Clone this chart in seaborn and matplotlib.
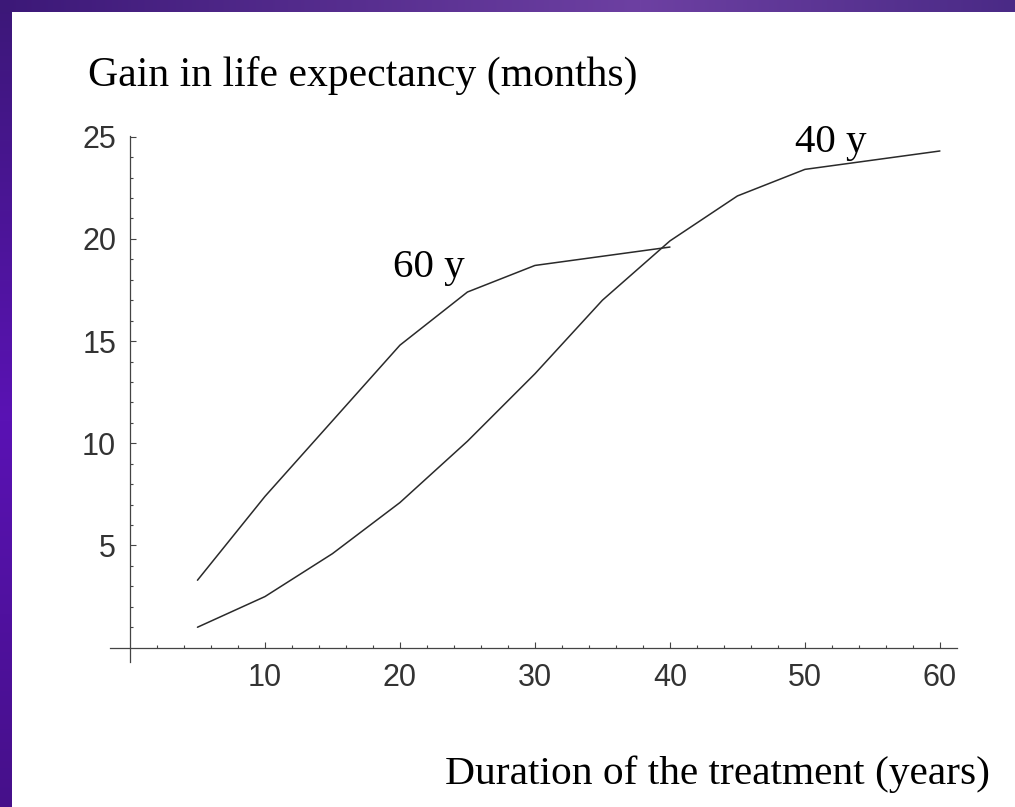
import numpy as np
import pandas as pd
import matplotlib
matplotlib.use("Agg")
import matplotlib.pyplot as plt
import matplotlib.ticker as mticker
import seaborn as sns

sns.set_theme(style="white")
plt.rcParams["font.family"] = ["Liberation Sans", "DejaVu Sans"]

# ── data ────────────────────────────────────────────────────────────────────
dur_40 = [5, 10, 15, 20, 25, 30, 35, 40, 45, 50, 55, 60]
gain_40 = [1.0, 2.5, 4.6, 7.1, 10.1, 13.4, 17.0, 19.9, 22.1, 23.4, 23.85, 24.3]
dur_60 = [5, 10, 15, 20, 25, 30, 35, 40]
gain_60 = [3.3, 7.4, 11.1, 14.8, 17.4, 18.7, 19.15, 19.6]

df = pd.concat([
    pd.DataFrame({"duration": dur_40, "gain": gain_40, "age": "40 y"}),
    pd.DataFrame({"duration": dur_60, "gain": gain_60, "age": "60 y"}),
])

W, H = 1015, 807
fig = plt.figure(figsize=(W / 100, H / 100), dpi=100)

# ── slide background: purple gradient strip on the left and top ─────────────
def ramp(n, stops):
    pos = [p for p, _ in stops]
    cols = np.array([matplotlib.colors.to_rgb(c) for _, c in stops])
    t = np.arange(n)
    return np.stack([np.interp(t, pos, cols[:, k]) for k in range(3)], axis=1)

bg = np.ones((H, W, 3))
band = 12
left = ramp(H, [(0, "#3c1878"), (420, "#5a12b4"), (H - 1, "#46108a")])
top = ramp(W, [(0, "#3c1878"), (640, "#6d40a2"), (W - 1, "#4a2a86")])
bg[:, :band, :] = left[:, None, :]
bg[:band, :, :] = top[None, :, :]
bax = fig.add_axes([0, 0, 1, 1], zorder=-1)
bax.imshow(bg, aspect="auto", interpolation="nearest")
bax.axis("off")

# ── plot ────────────────────────────────────────────────────────────────────
ax = fig.add_axes([0.1081, 0.1797, 0.8352, 0.6522])
ax.patch.set_alpha(0)
sns.lineplot(data=df, x="duration", y="gain", hue="age",
             palette=["#2a2a2a", "#2a2a2a"], linewidth=1.1,
             legend=False, ax=ax)

ax.set_xlim(-1.5, 61.3)
ax.set_ylim(-0.7, 25.05)
for s in ["top", "right"]:
    ax.spines[s].set_visible(False)
for s in ["left", "bottom"]:
    ax.spines[s].set_position(("data", 0))
    ax.spines[s].set_color("#444444")
    ax.spines[s].set_linewidth(0.9)

ax.xaxis.set_major_locator(mticker.FixedLocator([10, 20, 30, 40, 50, 60]))
ax.xaxis.set_minor_locator(mticker.FixedLocator(np.arange(2, 61, 2)))
ax.yaxis.set_major_locator(mticker.FixedLocator([5, 10, 15, 20, 25]))
ax.yaxis.set_minor_locator(mticker.FixedLocator(np.arange(1, 25, 1)))
ax.tick_params(which="both", direction="in", color="#444444", width=0.8,
               bottom=True, left=True)
ax.tick_params(which="major", length=4.5, labelsize=22, labelcolor="#333333")
ax.tick_params(which="minor", length=2.2)
ax.tick_params(axis="y", which="major", pad=10)
ax.tick_params(axis="x", which="major", pad=11)
ax.set_xlabel("")
ax.set_ylabel("")

serif = ["Liberation Serif", "DejaVu Serif"]
ax.text(19.48, 18.14, "60 y", family=serif, fontsize=29.5, color="black",
        ha="left", va="baseline")
ax.text(49.26, 24.25, "40 y", family=serif, fontsize=29.5, color="black",
        ha="left", va="baseline")

fig.text(88 / W, 1 - 86 / H, "Gain in life expectancy (months)", family=serif,
         fontsize=30.1, color="black", ha="left", va="baseline")
fig.text(445 / W, 1 - 784 / H, "Duration of the treatment (years)", family=serif,
         fontsize=29.8, color="black", ha="left", va="baseline")

fig.savefig("out.png", dpi=100)
